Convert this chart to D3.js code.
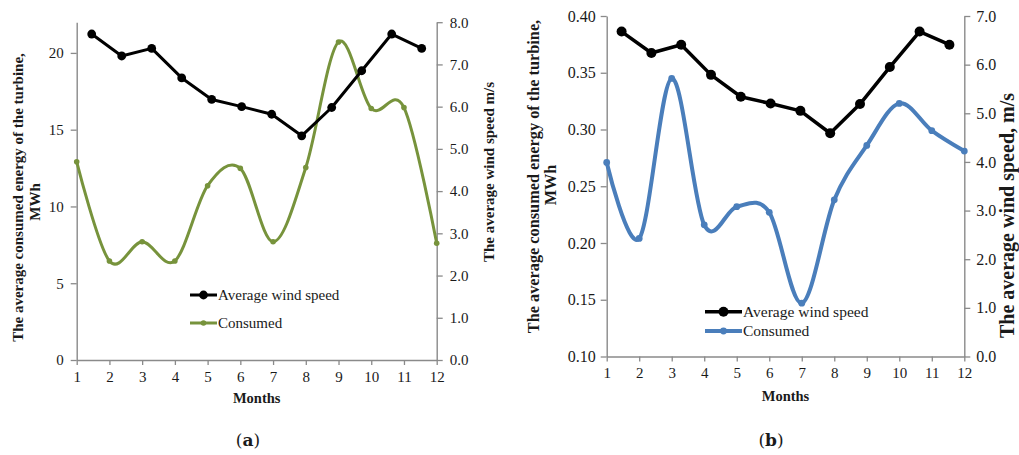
<!DOCTYPE html>
<html><head><meta charset="utf-8">
<script src="https://cdn.jsdelivr.net/npm/d3@7"></script>
<style>
body{margin:0;background:#fff;}
svg{display:block;}
text{font-family:"Liberation Serif","Times New Roman",serif;fill:#1a1a1a;}
</style></head>
<body>
<svg id="chart" width="1019" height="455"></svg>
<script>
// ---- data ----
const months = [1,2,3,4,5,6,7,8,9,10,11,12];
const windA = [7.72, 7.20, 7.38, 6.68, 6.17, 6.00, 5.82, 5.31, 5.98, 6.85, 7.72, 7.38];
const consumedA = [12.91, 6.45, 7.70, 6.45, 11.35, 12.48, 7.70, 12.54, 20.71, 16.38, 16.44, 7.60];
const windB = [6.68, 6.24, 6.41, 5.79, 5.34, 5.20, 5.05, 4.59, 5.19, 5.95, 6.68, 6.41];
const consumedB = [0.271, 0.204, 0.345, 0.216, 0.232, 0.227, 0.147, 0.238, 0.286, 0.323, 0.299, 0.281];
const leftTicksA = [0, 5, 10, 15, 20];
const rightTicksA = [0, 1, 2, 3, 4, 5, 6, 7, 8];
const leftTicksB = [0.10, 0.15, 0.20, 0.25, 0.30, 0.35, 0.40];
const rightTicksB = [0, 1, 2, 3, 4, 5, 6, 7];
const legendLabels = ["Average wind speed", "Consumed"];
const leftTitle = ["The average consumed energy of the turbine,", "MWh"];
const rightTitleA = "The average wind speed m/s";
const rightTitleB = "The average wind speed, m/s";
const xTitle = "Months";

const svg = d3.select("#chart");
const axisColor = "#8a8a8a";

function panel(c) {
  const g = svg.append("g");
  const x = d3.scaleLinear().domain([1, 12]).range([c.x0, c.x1]);
  const xb = d3.scaleBand().domain(months).range([c.x0, c.x1]);
  const yL = d3.scaleLinear().domain(c.leftDomain).range([c.yb, c.yt]);
  const yR = d3.scaleLinear().domain(c.rightDomain).range([c.yb, c.yt]);

  const styleAxis = (sel, fs) => {
    sel.select(".domain").attr("stroke", axisColor).attr("stroke-width", 1.4);
    sel.selectAll(".tick line").attr("stroke", axisColor).attr("stroke-width", 1.3);
    sel.selectAll(".tick text").style("font-family", '"Liberation Serif",serif')
      .style("font-size", fs + "px").attr("fill", "#222");
  };

  g.append("g").attr("transform", `translate(0,${c.yb})`)
    .call(d3.axisBottom(x).tickValues(months).tickFormat(d3.format("d")).tickSize(5).tickSizeOuter(0).tickPadding(c.xPad))
    .call(s => styleAxis(s, c.xFs));
  g.append("g").attr("transform", `translate(${c.x0},0)`)
    .call(d3.axisLeft(yL).tickValues(c.leftTicks).tickFormat(c.leftFmt).tickSize(6).tickSizeOuter(0).tickPadding(c.lPad))
    .call(s => styleAxis(s, c.lFs));
  g.append("g").attr("transform", `translate(${c.x1},0)`)
    .call(d3.axisRight(yR).tickValues(c.rightTicks).tickFormat(d3.format(".1f")).tickSize(6).tickSizeOuter(0).tickPadding(c.rPad))
    .call(s => styleAxis(s, c.rFs));

  // consumed (smoothed)
  const cLine = d3.line().x((d, i) => x(months[i])).y(d => yL(d)).curve(d3.curveCardinal.tension(0));
  g.append("path").datum(c.consumed).attr("d", cLine).attr("fill", "none")
    .attr("stroke", c.color).attr("stroke-width", c.cw).attr("stroke-linejoin", "round");
  g.selectAll(".cm").data(c.consumed).enter().append("circle")
    .attr("cx", (d, i) => x(months[i])).attr("cy", d => yL(d)).attr("r", c.cr).attr("fill", c.color);

  // wind speed (straight)
  const wx = (i) => xb(months[i]) + xb.bandwidth() / 2;
  const wLine = d3.line().x((d, i) => wx(i)).y(d => yR(d));
  g.append("path").datum(c.wind).attr("d", wLine).attr("fill", "none")
    .attr("stroke", "#000").attr("stroke-width", c.ww).attr("stroke-linejoin", "round");
  g.selectAll(".wm").data(c.wind).enter().append("circle")
    .attr("cx", (d, i) => wx(i)).attr("cy", d => yR(d)).attr("r", c.wr).attr("fill", "#000");

  // legend
  const leg = [{col: "#000", w: c.ww, r: c.wr}, {col: c.color, w: c.cw, r: c.cr}];
  leg.forEach((l, i) => {
    const ly = c.legY[i];
    g.append("line").attr("x1", c.legX).attr("x2", c.legX + c.legLen).attr("y1", ly).attr("y2", ly)
      .attr("stroke", l.col).attr("stroke-width", l.w);
    g.append("circle").attr("cx", c.legX + c.legLen / 2).attr("cy", ly).attr("r", l.r).attr("fill", l.col);
    g.append("text").attr("x", c.legX + c.legLen + 1).attr("y", ly + 5)
      .style("font-size", c.legFs + "px").text(legendLabels[i]);
  });

  // titles
  g.append("text").attr("transform", `translate(${c.lt1x},${c.lt1y}) rotate(-90)`)
    .attr("text-anchor", "middle").style("font-weight", "bold").style("font-size", c.ltFs + "px").text(leftTitle[0]);
  g.append("text").attr("transform", `translate(${c.lt2x},${c.lt2y}) rotate(-90)`)
    .attr("text-anchor", "middle").style("font-weight", "bold").style("font-size", c.ltFs + "px").text(leftTitle[1]);
  g.append("text").attr("transform", `translate(${c.rtx},${c.rty}) rotate(-90)`)
    .attr("text-anchor", "middle").style("font-weight", "bold").style("font-size", c.rtFs + "px").text(c.rightTitle);
  g.append("text").attr("x", (c.x0 + c.x1) / 2).attr("y", c.mY)
    .attr("text-anchor", "middle").style("font-weight", "bold").style("font-size", "14.5px").text(xTitle);

  const cap = g.append("text").attr("x", c.capX).attr("y", 446).attr("text-anchor", "middle")
    .style("font-family", '"DejaVu Serif",serif').style("font-size", "17px").attr("fill", "#000");
  cap.append("tspan").text("(");
  cap.append("tspan").style("font-weight", "bold").text(c.capLetter);
  cap.append("tspan").text(")");
}

panel({
  x0: 76.7, x1: 436.7, yb: 360, yt: 22.2,
  leftDomain: [0, 22], rightDomain: [0, 8],
  leftTicks: leftTicksA, rightTicks: rightTicksA, leftFmt: d3.format("d"),
  consumed: consumedA, wind: windA, color: "#77933C",
  cw: 3, cr: 2.8, ww: 3, wr: 4.4,
  xPad: 6, xFs: 15, lPad: 7, lFs: 15, rPad: 7, rFs: 15,
  legX: 190, legLen: 27, legY: [295, 323], legFs: 15,
  lt1x: 23, lt1y: 197.5, lt2x: 39.5, lt2y: 202, ltFs: 15,
  rtx: 493.5, rty: 172, rtFs: 15, rightTitle: rightTitleA,
  mY: 403, capX: 248, capLetter: "a"
});

panel({
  x0: 606.7, x1: 964.3, yb: 356.5, yt: 16,
  leftDomain: [0.10, 0.40], rightDomain: [0, 7],
  leftTicks: leftTicksB, rightTicks: rightTicksB, leftFmt: d3.format(".2f"),
  consumed: consumedB, wind: windB, color: "#4A7EBB",
  cw: 4, cr: 3.4, ww: 3.5, wr: 5,
  xPad: 6, xFs: 15, lPad: 5, lFs: 16, rPad: 6, rFs: 16,
  legX: 705, legLen: 37, legY: [311.7, 331], legFs: 15.5,
  lt1x: 539, lt1y: 176.5, lt2x: 556, lt2y: 185, ltFs: 16.3,
  rtx: 1013.5, rty: 215.5, rtFs: 20, rightTitle: rightTitleB,
  mY: 401, capX: 771, capLetter: "b"
});
</script>
</body></html>
